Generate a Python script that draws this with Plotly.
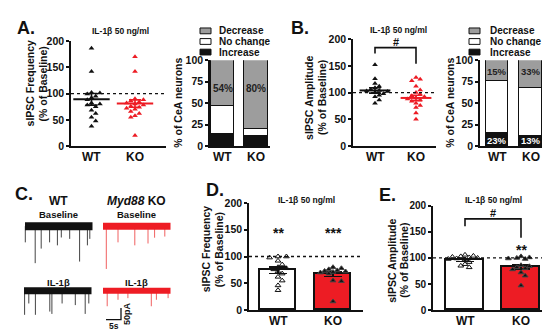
import plotly.graph_objects as go

W, H = 550, 336
FONT = "Liberation Sans, Arial, Helvetica, sans-serif"
BLACK = "#111111"
RED = "#ed1c24"
GRAY = "#9d9d9d"

# ======================= DATA =======================
groups = ["WT", "KO"]
stim_label = "IL-1β 50 ng/ml"
pct_ticks = [0, 25, 50, 75, 100]
base_ticks = [0, 50, 100, 150, 200]

# A. sIPSC frequency, individual cells (% of baseline)
freq_wt = [186, 142, 102, 101, 99, 95, 92, 88, 82, 80, 78, 75, 68, 62, 55, 48, 38]
freq_ko = [170, 142, 90, 88, 86, 84, 82, 80, 78, 76, 74, 72, 70, 66, 62, 58, 55, 20]
freq_mean = [89, 81]
freq_sem = [11, 7]

# A. response categories (% of CeA neurons)
resp_categories = ["Increase", "No change", "Decrease"]
freq_resp = {"Increase": [14, 12], "No change": [32, 8], "Decrease": [54, 80]}
freq_resp_dec_labels = ["54%", "80%"]

# B. sIPSC amplitude, individual cells (% of baseline)
amp_wt = [152, 126, 117, 112, 109, 106, 104, 103, 102, 100, 98, 95, 92, 86, 80]
amp_ko = [128, 125, 122, 112, 105, 100, 97, 94, 92, 90, 88, 86, 84, 80, 76, 72, 62, 50]
amp_mean = [104, 90]
amp_sem = [5, 5]
amp_resp = {"Increase": [15, 12], "No change": [61, 55], "Decrease": [24, 33]}
amp_resp_dec_labels = ["15%", "33%"]
amp_resp_inc_labels = ["23%", "13%"]
amp_bracket = {"top": 184, "legs": [173, 154], "label": "#"}

# C. representative traces: event times (s) and amplitudes (pA)
trace_dur = 22.5
wt_base_t = [0.1, 3.4, 5.4, 8.2, 10.8, 12.1, 14.9, 18.2, 20.8, 21.6]
wt_base_a = [70, 160, 97, 70, 83, 49, 55, 153, 83, 55]
ko_base_t = [1.1, 5.0, 10.6, 15.0, 17.2, 20.6]
ko_base_a = [185, 70, 83, 75, 50, 45]
wt_il_t = [0.2, 1.6, 3.8, 8.6, 9.3, 12.7, 17.1, 20.4, 21.6]
wt_il_a = [104, 55, 104, 90, 100, 55, 62, 100, 55]
ko_il_t = [1.4, 5.0, 8.3, 16.1, 17.8, 21.7]
ko_il_a = [67, 39, 32, 67, 39, 32]
scale_s, scale_pa = 5, 50

# D. sIPSC frequency (bar + points)
d_wt = [100, 100, 98, 92, 85, 80, 78, 76, 72, 68, 62, 55, 46, 37]
d_ko = [80, 78, 76, 74, 73, 72, 71, 70, 68, 55, 54, 16]
d_mean = [74, 67]
d_sem = [6, 4]
d_stars = ["**", "***"]

# E. sIPSC amplitude (bar + points)
e_wt = [106, 104, 103, 102, 101, 100, 99, 98, 97, 92, 88, 85, 82]
e_ko = [103, 101, 100, 99, 98, 86, 84, 82, 80, 78, 72, 66, 47]
e_mean = [96, 83]
e_sem = [3, 4]
e_stars = ["", "**"]
e_bracket = {"top": 175, "legs": [161, 139], "label": "#"}

# ======================= LAYOUT HELPERS =======================
fig = go.Figure()
layout = {}
annotations = []
shapes = []


def f(size, color=BLACK, bold=True):
    return dict(family=FONT, size=size, color=color, weight="bold" if bold else "normal")


def ann(text, px, py, size, angle=0, color=BLACK, bold=True, xanchor="center", height=None):
    a = dict(text=text, x=px / W, y=1 - py / H, xref="paper", yref="paper",
             showarrow=False, xanchor=xanchor, yanchor="middle", borderpad=0,
             textangle=angle, font=f(size, color, bold))
    if height:
        a["height"] = height
    annotations.append(a)


def add_axes(n, xpx, ypx, centers=None, yrange=(0, 200), ticks=None, visible=True, xrange=None,
             label_py=None, tick_size=10.5):
    xs = "xaxis" if n == 1 else f"xaxis{n}"
    ys = "yaxis" if n == 1 else f"yaxis{n}"
    xa = "x" if n == 1 else f"x{n}"
    ya = "y" if n == 1 else f"y{n}"
    if centers is not None:
        u = centers[1] - centers[0]
        xrange = [(xpx[0] - centers[0]) / u, (xpx[1] - centers[0]) / u]
    if not visible:
        layout[xs] = dict(domain=[xpx[0] / W, xpx[1] / W], range=xrange, visible=False, anchor=ya)
        layout[ys] = dict(domain=[1 - ypx[1] / H, 1 - ypx[0] / H], range=list(yrange), visible=False, anchor=xa)
        return xa, ya
    layout[xs] = dict(domain=[xpx[0] / W, xpx[1] / W], range=xrange, anchor=ya,
                      showline=True, linecolor=BLACK, linewidth=1.6, ticks="",
                      showticklabels=False, showgrid=False, zeroline=False, fixedrange=True)
    layout[ys] = dict(domain=[1 - ypx[1] / H, 1 - ypx[0] / H], range=list(yrange), anchor=xa,
                      showline=True, linecolor=BLACK, linewidth=1.6, ticks="outside", ticklen=3,
                      tickwidth=1.5, tickcolor=BLACK, tickvals=ticks, ticktext=[str(v) for v in ticks],
                      showticklabels=True, ticklabeloverflow="allow", tickfont=f(tick_size),
                      showgrid=False, zeroline=False, fixedrange=True)
    for i, g in enumerate(groups):
        annotations.append(dict(text=g, x=i, xref=xa, xanchor="center", y=1 - label_py / H, yref="paper",
                                yanchor="middle", showarrow=False, borderpad=0, font=f(12)))
    return xa, ya


def swarm(values, px_per_y, px_per_x, step=4.2, mind=4.4):
    placed, offs = [], [0.0] * len(values)
    order = sorted(range(len(values)), key=lambda i: -values[i])
    cands = [0.0]
    for j in range(1, 12):
        cands += [j * step, -j * step]
    for i in order:
        yp = values[i] * px_per_y
        chosen = cands[-1]
        for c in cands:
            if all((c - a) ** 2 + (yp - b) ** 2 >= mind ** 2 for a, b in placed):
                chosen = c
                break
        placed.append((chosen, yp))
        offs[i] = chosen / px_per_x
    return offs


def dotted100(xa, ya):
    shapes.append(dict(type="line", xref=f"{xa} domain", yref=ya, x0=0, x1=1, y0=100, y1=100,
                       line=dict(color=BLACK, width=1.3, dash="dot")))


def scatter_panel(xa, ya, vals, means, sems, ypx_per, xpx_per, mean_w):
    for gi, (v, col) in enumerate(zip(vals, [BLACK, RED])):
        offs = swarm(v, ypx_per, xpx_per)
        fig.add_trace(go.Scatter(x=[gi + o for o in offs], y=v, mode="markers", xaxis=xa, yaxis=ya,
                                 marker=dict(symbol="triangle-up", size=5, color=col, line=dict(width=0)),
                                 showlegend=False, hoverinfo="skip"))
        fig.add_trace(go.Scatter(x=[gi], y=[means[gi]], mode="markers", xaxis=xa, yaxis=ya,
                                 marker=dict(symbol="line-ew", size=mean_w, line=dict(color=col, width=2)),
                                 error_y=dict(type="data", array=[sems[gi]], width=6, thickness=1.6, color=col),
                                 showlegend=False, hoverinfo="skip"))


def stacked_panel(xa, ya, resp, width):
    colors = {"Increase": BLACK, "No change": "white", "Decrease": GRAY}
    for cat in resp_categories:
        fig.add_trace(go.Bar(x=[0, 1], y=resp[cat], width=width, xaxis=xa, yaxis=ya,
                             marker=dict(color=colors[cat], line=dict(color=BLACK, width=1.2)),
                             showlegend=False, hoverinfo="skip"))


def legend_block(box_x0, box_x1, text_x, rows_y, size):
    cols = [GRAY, "white", BLACK]
    for (lab, c, ry) in zip(["Decrease", "No change", "Increase"], cols, rows_y):
        shapes.append(dict(type="rect", xref="paper", yref="paper", x0=box_x0 / W, x1=box_x1 / W,
                           y0=1 - (ry + 3) / H, y1=1 - (ry - 3) / H,
                           fillcolor=c, line=dict(color=BLACK, width=1)))
        ann(lab, text_x, ry, size, xanchor="left", height=9)


def bracket(xa, ya, br):
    fig.add_trace(go.Scatter(x=[0, 0, 1, 1], y=[br["legs"][0], br["top"], br["top"], br["legs"][1]],
                             mode="lines", xaxis=xa, yaxis=ya, line=dict(color=BLACK, width=1.6),
                             showlegend=False, hoverinfo="skip"))
    annotations.append(dict(text=br["label"], x=0.5, y=br["top"], xref=xa, yref=ya, showarrow=False,
                            yanchor="bottom", yshift=-1, borderpad=0, font=f(11)))


def bar_panel(xa, ya, vals, means, sems, width, ypx_per, xpx_per):
    fig.add_trace(go.Bar(x=[0, 1], y=means, width=width, xaxis=xa, yaxis=ya,
                         marker=dict(color=["white", RED], line=dict(color=BLACK, width=1.6)),
                         error_y=dict(type="data", array=sems, width=9, thickness=1.6, color=BLACK),
                         showlegend=False, hoverinfo="skip"))
    for gi, v in enumerate(vals):
        offs = swarm(v, ypx_per, xpx_per)
        fig.add_trace(go.Scatter(x=[gi + o for o in offs], y=v, mode="markers", xaxis=xa, yaxis=ya,
                                 marker=dict(symbol="triangle-up-open" if gi == 0 else "triangle-up",
                                             size=5, color=BLACK, line=dict(width=1)),
                                 showlegend=False, hoverinfo="skip"))


# ======================= PANEL A =======================
xa, ya = add_axes(1, (63, 158), (28, 137), centers=(83.5, 127), ticks=base_ticks, label_py=148)
dotted100(xa, ya)
scatter_panel(xa, ya, [freq_wt, freq_ko], freq_mean, freq_sem, 109 / 200, 43.5, 26)

xa2, ya2 = add_axes(2, (202, 262), (48, 137), centers=(214.5, 248), yrange=(0, 100), ticks=pct_ticks,
                    label_py=148)
stacked_panel(xa2, ya2, freq_resp, 0.69)
for gi, lab in enumerate(freq_resp_dec_labels):
    annotations.append(dict(text=lab, x=gi, y=67, xref=xa2, yref=ya2, showarrow=False, font=f(10, "#222")))
legend_block(192, 203, 210, [17.5, 28.5, 39.5], 10)

# ======================= PANEL B =======================
xa3, ya3 = add_axes(3, (345, 428), (26, 137), centers=(367, 408), ticks=base_ticks, label_py=148)
dotted100(xa3, ya3)
scatter_panel(xa3, ya3, [amp_wt, amp_ko], amp_mean, amp_sem, 111 / 200, 41, 22)
bracket(xa3, ya3, amp_bracket)

xa4, ya4 = add_axes(4, (472, 538), (48, 137), centers=(489, 522.5), yrange=(0, 100), ticks=pct_ticks,
                    label_py=148)
stacked_panel(xa4, ya4, amp_resp, 0.66)
for gi, lab in enumerate(amp_resp_dec_labels):
    annotations.append(dict(text=lab, x=gi, y=87, xref=xa4, yref=ya4, showarrow=False, font=f(9.5, "#222")))
for gi, lab in enumerate(amp_resp_inc_labels):
    annotations.append(dict(text=lab, x=gi, y=7, xref=xa4, yref=ya4, showarrow=False, font=f(9.5, "white")))
legend_block(461, 472, 481, [17.5, 28.5, 39.5], 10)

# ======================= PANEL C (traces) =======================
PX_S, PX_PA = 3.0, 0.24
c_x, c_y = (15, 170), (200, 330)
row0_px = 220
xa5, ya5 = add_axes(5, c_x, c_y, visible=False, xrange=[0, (c_x[1] - c_x[0]) / PX_S],
                    yrange=(-(c_y[1] - row0_px) / PX_PA, (row0_px - c_y[0]) / PX_PA))


def s_at(px):
    return (px - c_x[0]) / PX_S


def pa_at(py):
    return (row0_px - py) / PX_PA


recs = [
    (wt_base_t, wt_base_a, s_at(17), pa_at(220), "#111111", "#444444", 8),
    (ko_base_t, ko_base_a, s_at(95), pa_at(220), "#ee1c24", "#f06060", 7),
    (wt_il_t, wt_il_a, s_at(16), pa_at(287), "#111111", "#444444", 7),
    (ko_il_t, ko_il_a, s_at(95), pa_at(287), "#ee1c24", "#f06060", 6),
]
for (tt, aa, t0, off, bandc, spc, bw) in recs:
    sx, sy = [], []
    for t, a in zip(tt, aa):
        sx += [t0 + t, t0 + t, None]
        sy += [off, off - a, None]
    fig.add_trace(go.Scatter(x=sx, y=sy, mode="lines", xaxis=xa5, yaxis=ya5,
                             line=dict(color=spc, width=1), showlegend=False, hoverinfo="skip"))
    fig.add_trace(go.Scatter(x=[t0, t0 + trace_dur], y=[off, off], mode="lines", xaxis=xa5, yaxis=ya5,
                             line=dict(color=bandc, width=bw), showlegend=False, hoverinfo="skip"))

sb_x0, sb_y0 = s_at(98), pa_at(317)
fig.add_trace(go.Scatter(x=[sb_x0, sb_x0 + scale_s, sb_x0 + scale_s], y=[sb_y0, sb_y0, sb_y0 + scale_pa],
                         mode="lines", xaxis=xa5, yaxis=ya5, line=dict(color=BLACK, width=1.3),
                         showlegend=False, hoverinfo="skip"))

# ======================= PANEL D =======================
xa6, ya6 = add_axes(6, (241, 355), (196, 307), centers=(270, 325), ticks=base_ticks, label_py=318)
dotted100(xa6, ya6)
bar_panel(xa6, ya6, [d_wt, d_ko], d_mean, d_sem, 0.655, 111 / 200, 55)
for gi, st in enumerate(d_stars):
    annotations.append(dict(text=st, x=gi, y=150, xref=xa6, yref=ya6, showarrow=False, yshift=-3, font=f(14)))

# ======================= PANEL E =======================
xa7, ya7 = add_axes(7, (425, 538), (199, 307), centers=(457, 513), ticks=base_ticks, label_py=318,
                    tick_size=10)
dotted100(xa7, ya7)
bar_panel(xa7, ya7, [e_wt, e_ko], e_mean, e_sem, 0.68, 108 / 200, 56)
bracket(xa7, ya7, e_bracket)
for gi, st in enumerate(e_stars):
    if st:
        annotations.append(dict(text=st, x=gi, y=121, xref=xa7, yref=ya7, showarrow=False, yshift=-3, font=f(14)))

# ======================= TEXT =======================
for lab, px, py in [("A.", 18, 15), ("B.", 292, 15), ("C.", 16, 187), ("D.", 207, 182), ("E.", 379, 188)]:
    ann(lab, px, py, 18)
for px, py in [(112, 18), (390, 17), (298, 193), (485, 193)]:
    ann(stim_label, px, py, 8.5)

ann("sIPSC Frequency", 22, 72, 10.5, angle=-90)
ann("(% of Baseline)", 35, 72, 10.5, angle=-90)
ann("% of CeA neurons", 170, 92, 10.5, angle=-90)
ann("sIPSC Amplitude", 301, 87, 10.5, angle=-90)
ann("(% of Baseline)", 314, 87, 10.5, angle=-90)
ann("sIPSC Frequency", 198, 244, 10.5, angle=-90)
ann("(% of Baseline)", 211, 244, 10.5, angle=-90)
ann("sIPSC Amplitude", 384, 256, 10.5, angle=-90)
ann("(% of Baseline)", 396, 256, 10.5, angle=-90)
ann("% of CeA neurons", 442, 92, 10.5, angle=-90)

ann("WT", 50, 194, 12)
ann("<i>Myd88</i> KO", 128, 194, 12)
ann("Baseline", 50, 208, 9.5)
ann("Baseline", 128, 208, 9.5)
ann("IL-1β", 50, 278, 9.5)
ann("IL-1β", 128, 278, 9.5)
ann("5s", 106, 324, 8.5)
ann("50pA", 119, 311, 9, angle=-90)

layout.update(dict(width=W, height=H, margin=dict(l=0, r=0, t=0, b=0), paper_bgcolor="white",
                   plot_bgcolor="rgba(0,0,0,0)", barmode="stack", bargap=0, showlegend=False,
                   annotations=annotations, shapes=shapes))
fig.update_layout(**layout)
fig.write_html("out.html", config={"displayModeBar": False})
